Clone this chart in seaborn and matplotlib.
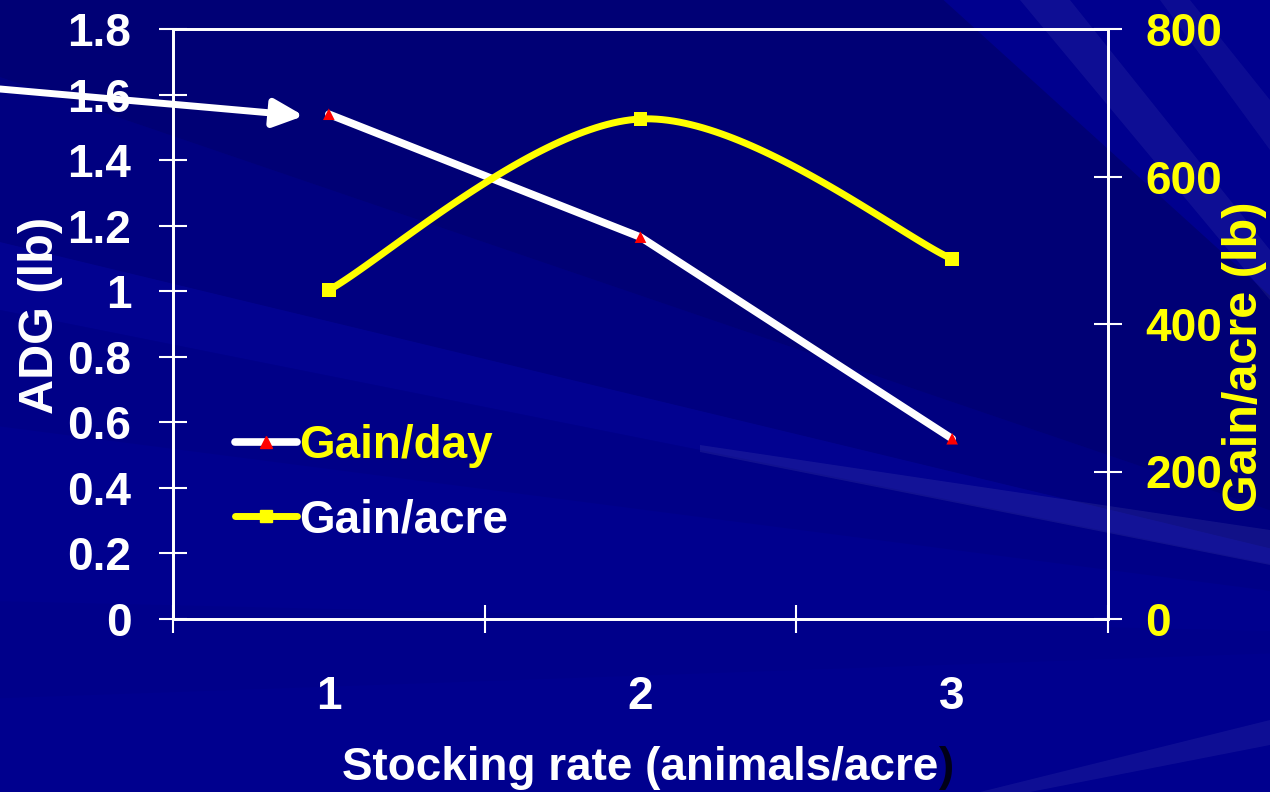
import numpy as np
import pandas as pd
import matplotlib
matplotlib.use("Agg")
import matplotlib.pyplot as plt
from matplotlib.patches import Polygon
from matplotlib.ticker import FuncFormatter
import seaborn as sns

# ---- data ----
stocking_rate = [1, 2, 3]
gain_per_day = [1.54, 1.165, 0.55]      # ADG (lb)
gain_per_acre = [446, 678, 488]         # lb/acre
series_names = ["Gain/day", "Gain/acre"]
x_label = "Stocking rate (animals/acre"
y_label_left = "ADG (lb)"
y_label_right = "Gain/acre (lb)"
left_ticks = [0, 0.2, 0.4, 0.6, 0.8, 1.0, 1.2, 1.4, 1.6, 1.8]
right_ticks = [0, 200, 400, 600, 800]

sns.set_style("ticks")
plt.rcParams["font.family"] = ["Liberation Sans", "DejaVu Sans"]
plt.rcParams["font.weight"] = "bold"

NAVY = "#00008e"
YELLOW = "#ffff00"
W, H = 1270, 792

fig = plt.figure(figsize=(12.7, 7.92), dpi=100, facecolor=NAVY)


def px(x, y):
    """pixel position -> figure fraction"""
    return (x / W, 1 - y / H)


# slide backdrop: soft dark and light rays fanning out from the lower right
origin = (1650, 640)
rays = [
    # (left-edge y top, left-edge y bottom, colour, alpha)
    (-900, 60, "#000050", 0.40),
    (60, 230, "#000060", 0.30),
    (230, 300, "#1414a0", 0.15),
    (300, 420, "#00006a", 0.18),
    (600, 700, "#000070", 0.12),
]
for y0, y1, col, a in rays:
    poly = Polygon([px(*origin), px(-50, y0), px(-50, y1)], closed=True,
                   transform=fig.transFigure, facecolor=col, alpha=a,
                   edgecolor="none", zorder=-10)
    fig.patches.append(poly)
# thin pale streaks near the right edge
for pts, a in [
    ([(1270, 530), (700, 445), (700, 452), (1270, 565)], 0.07),
    ([(1270, 720), (980, 792), (1030, 792), (1270, 745)], 0.06),
    ([(1270, 300), (1020, 0), (1070, 0), (1270, 250)], 0.06),
    ([(1270, 150), (1160, 0), (1190, 0), (1270, 100)], 0.05),
]:
    poly = Polygon([px(*p) for p in pts], closed=True, transform=fig.transFigure,
                   facecolor="white", alpha=a, edgecolor="none", zorder=-9)
    fig.patches.append(poly)

ax = fig.add_axes([173 / W, 1 - 619 / H, (1108 - 173) / W, (619 - 29) / H])
ax.set_facecolor("none")
ax2 = ax.twinx()
ax2.set_facecolor("none")


def smooth_curve(xs, ys, n=60):
    """Cubic Bezier smoothing through the points (Catmull-Rom tangents)."""
    P = np.column_stack([xs, ys]).astype(float)
    P_ext = np.vstack([P[0], P, P[-1]])
    out = []
    for i in range(len(P) - 1):
        p0, p1, p2, p3 = P_ext[i], P_ext[i + 1], P_ext[i + 2], P_ext[i + 3]
        c1 = p1 + (p2 - p0) / 6
        c2 = p2 - (p3 - p1) / 6
        t = np.linspace(0, 1, n)[:, None]
        seg = ((1 - t) ** 3) * p1 + 3 * ((1 - t) ** 2) * t * c1 \
            + 3 * (1 - t) * t ** 2 * c2 + t ** 3 * p2
        out.append(seg if i == 0 else seg[1:])
    return np.vstack(out)


df_day = pd.DataFrame({"rate": stocking_rate, "adg": gain_per_day})
df_acre = pd.DataFrame({"rate": stocking_rate, "gain": gain_per_acre})
curve = smooth_curve(stocking_rate, gain_per_acre)
df_curve = pd.DataFrame({"rate": curve[:, 0], "gain": curve[:, 1]})

# Gain/day: straight white line with small red triangles
sns.lineplot(data=df_day, x="rate", y="adg", ax=ax, color="white", lw=5.5,
             solid_capstyle="round", solid_joinstyle="round", zorder=3)
sns.scatterplot(data=df_day, x="rate", y="adg", ax=ax, marker="^", s=70,
                color="red", edgecolor="none", zorder=4)

# Gain/acre: smoothed yellow line with square markers
sns.lineplot(data=df_curve, x="rate", y="gain", ax=ax2, color=YELLOW, lw=5,
             sort=False, estimator=None, zorder=3)
sns.scatterplot(data=df_acre, x="rate", y="gain", ax=ax2, marker="s", s=95,
                color=YELLOW, edgecolor="none", zorder=4)

FS = 33
ax.set_xlim(0.5, 3.5)
ax.set_ylim(0, 1.8)
ax2.set_ylim(0, 800)

ax.set_xticks(stocking_rate)
ax.set_xticklabels([str(v) for v in stocking_rate])
ax.set_xticks([0.5, 1.5, 2.5, 3.5], minor=True)
ax.set_yticks(left_ticks)
ax.yaxis.set_major_formatter(FuncFormatter(lambda v, p: f"{v:g}"))
ax2.set_yticks(right_ticks)

ax.tick_params(axis="x", which="major", length=0, pad=40, labelsize=FS,
               labelcolor="white")
ax.tick_params(axis="x", which="minor", length=20, width=1.5, direction="inout",
               color="white")
ax.tick_params(axis="y", length=20, width=1.5, direction="inout", color="white",
               labelsize=FS, labelcolor="white", pad=20)
ax2.tick_params(axis="y", length=20, width=1.5, direction="inout", color="white",
                labelsize=FS, labelcolor=YELLOW, pad=17)
ax2.tick_params(axis="x", length=0)

for a in (ax, ax2):
    for s in a.spines.values():
        s.set_color("white")
        s.set_linewidth(2)
    a.grid(False)

xl = ax.set_xlabel(x_label, fontsize=FS, color="white", fontweight="bold",
                   labelpad=20)
ax.set_ylabel(y_label_left, fontsize=35, color="white", fontweight="bold")
ax.yaxis.set_label_coords(-0.118, 0.515)
ax2.set_ylabel(y_label_right, fontsize=35, color=YELLOW, fontweight="bold")
ax2.yaxis.set_label_coords(1.122, 0.445)

# closing parenthesis of the axis title, drawn in a darker shade
fig.canvas.draw()
ax.annotate(")", xy=(1, 0), xycoords=xl, va="bottom", ha="left",
            fontsize=FS, fontweight="bold", color="#000018",
            annotation_clip=False)

# legend combining both axes
h_day = plt.Line2D([], [], color="white", lw=5.5, marker="^", markersize=8,
                   markerfacecolor="red", markeredgecolor="red",
                   solid_capstyle="round")
h_acre = plt.Line2D([], [], color=YELLOW, lw=5, marker="s", markersize=9,
                    markerfacecolor=YELLOW, markeredgecolor=YELLOW)
leg = ax2.legend([h_day, h_acre], series_names, loc="upper left",
                 bbox_to_anchor=(0.066, 0.33), frameon=False, fontsize=FS,
                 handlelength=1.35, handletextpad=0.05, labelspacing=0.65,
                 borderpad=0, borderaxespad=0)
leg.get_texts()[0].set_color(YELLOW)
leg.get_texts()[1].set_color("white")

# pointer arrow towards the first Gain/day point
ax2.annotate("", xy=(0.92, 1.535), xycoords=ax.transData,
             xytext=px(0, 89), textcoords="figure fraction",
             arrowprops=dict(arrowstyle="-|>,head_length=0.9,head_width=0.42",
                             mutation_scale=20, color="white", lw=5,
                             shrinkA=0, shrinkB=0),
             annotation_clip=False, zorder=10)

fig.savefig("out.png", dpi=100, facecolor=fig.get_facecolor())
